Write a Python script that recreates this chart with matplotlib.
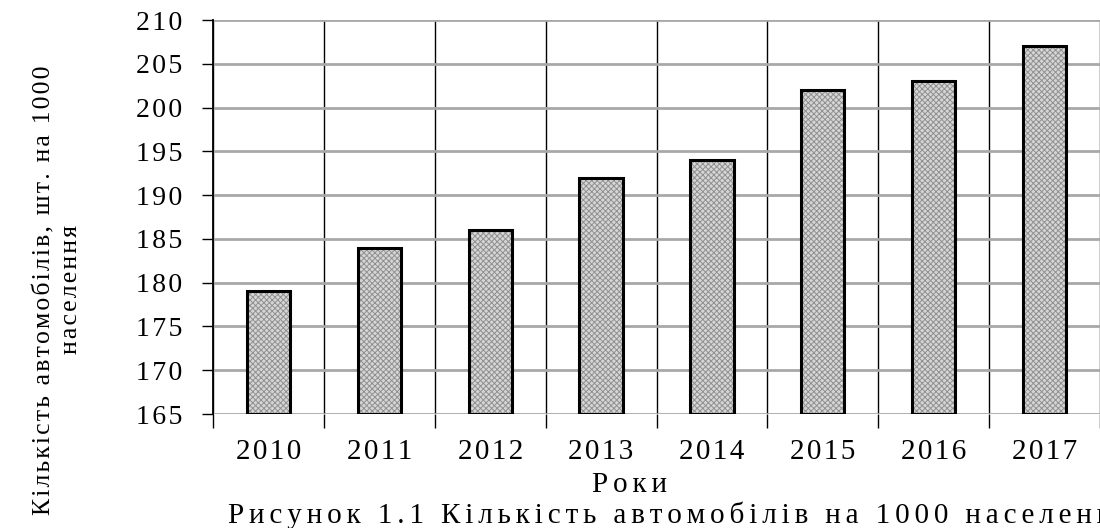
import matplotlib
matplotlib.use('Agg')
import matplotlib.pyplot as plt
import numpy as np

plt.rcParams['font.family'] = ['Liberation Serif', 'DejaVu Serif']
plt.rcParams['hatch.linewidth'] = 0.7

# data
years = ['2010', '2011', '2012', '2013', '2014', '2015', '2016', '2017']
cars = [179, 184, 186, 192, 194, 202, 203, 207]
y_ticks = [165, 170, 175, 180, 185, 190, 195, 200, 205, 210]

HAIR = '\u200a'
SIXTH = '\u2006'


def spaced(s, sep=HAIR):
    # the reference text is set wide, so pad between letters
    return sep.join(s)


fig = plt.figure(figsize=(11, 5.28), dpi=100)
ax = fig.add_axes([213/1100, 114/528, 887/1100, 394/528])

x = np.arange(len(years))
heights = [v - 165 for v in cars]
# hatched fill, then black outline on top
ax.bar(x, heights, bottom=165, width=0.39,
       facecolor='#d6d6d6', edgecolor='#909090', hatch='xxxxxx', lw=0, zorder=3)
ax.bar(x, heights, bottom=165, width=0.39,
       fill=False, edgecolor='black', lw=2.2, zorder=4)

ax.set_xlim(-0.5, len(years) - 0.5)
ax.set_ylim(165, 210)
ax.set_yticks(y_ticks)
ax.set_yticklabels([spaced(str(t)) for t in y_ticks])
ax.tick_params(axis='y', labelsize=20, length=8, width=1.0, pad=14, colors='black')
ax.set_xticks(x)
ax.set_xticklabels([spaced(y) for y in years])
ax.tick_params(axis='x', which='major', length=0, labelsize=21, pad=18)
ax.set_xticks(np.arange(len(years) + 1) - 0.5, minor=True)
ax.tick_params(axis='x', which='minor', length=10, width=1.0, direction='out')

ax.yaxis.grid(True, color='#a8a8a8', lw=2.0, zorder=1)
ax.xaxis.grid(True, which='minor', color='black', lw=1.0, zorder=1)

for s in ['top', 'right', 'bottom']:
    ax.spines[s].set_visible(False)
ax.spines['left'].set_linewidth(1.3)

fig.text(58/1100, 1 - 290/528,
         spaced('Кількість автомобілів, шт. на 1000') + '\n' + spaced('населення'),
         rotation=90, ha='center', va='center', multialignment='center',
         fontsize=18.5, linespacing=1.25)
fig.text(630/1100, 1 - 485/528, spaced('Роки', SIXTH), ha='center', va='center', fontsize=21)
fig.text(228/1100, 1 - 515/528,
         spaced('Рисунок 1.1 Кількість автомобілів на 1000 населення', SIXTH),
         ha='left', va='center', fontsize=21)

fig.savefig('out.png', dpi=100)
